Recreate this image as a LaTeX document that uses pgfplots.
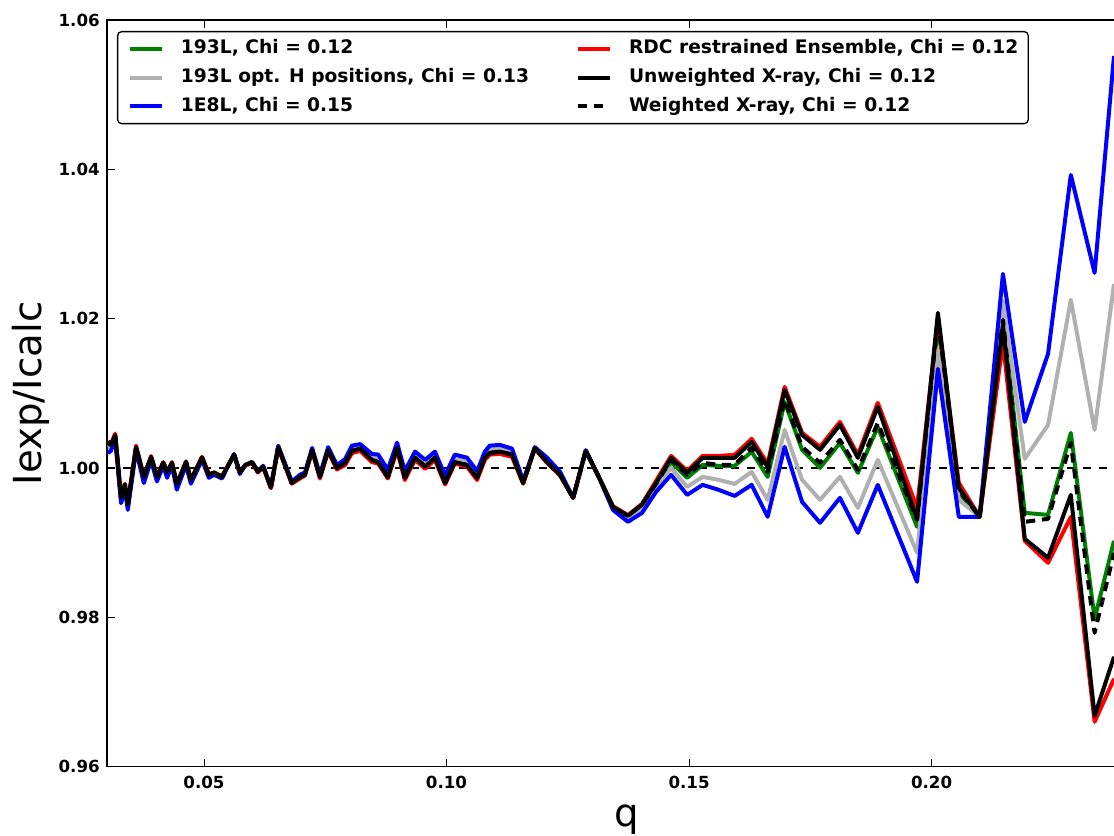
\documentclass[border=0pt]{standalone}
\usepackage{fontspec}
\setmainfont{DejaVu Sans}
\usepackage{pgfplots}
\usepackage{pgfplotstable}
\pgfplotsset{compat=1.18}
\definecolor{mplgreen}{HTML}{008000}
\definecolor{mplgray}{HTML}{B0B0B0}

% q, unweighted (k), 1E8L (b), 193L opt H (gr), 193L (g), RDC (r), weighted (w)
\pgfplotstableread{
q      k       b       gr      g       r       w
0.0302 1.0035  1.0020  1.0027  1.0032  1.0036  1.0035
0.0308 1.0031  1.0023  1.0028  1.0030  1.0032  1.0031
0.0317 1.0044  1.0038  1.0042  1.0043  1.0046  1.0044
0.0329 0.9960  0.9953  0.9959  0.9960  0.9961  0.9960
0.0337 0.9978  0.9971  0.9976  0.9977  0.9979  0.9978
0.0343 0.9951  0.9944  0.9949  0.9950  0.9952  0.9951
0.0360 1.0028  1.0024  1.0027  1.0028  1.0030  1.0028
0.0376 0.9988  0.9980  0.9987  0.9988  0.9989  0.9988
0.0391 1.0015  1.0010  1.0014  1.0015  1.0016  1.0015
0.0403 0.9988  0.9982  0.9987  0.9988  0.9989  0.9988
0.0416 1.0007  1.0003  1.0006  1.0007  1.0008  1.0007
0.0424 0.9994  0.9987  0.9993  0.9994  0.9995  0.9994
0.0434 1.0007  1.0003  1.0006  1.0007  1.0008  1.0007
0.0444 0.9978  0.9971  0.9977  0.9978  0.9979  0.9978
0.0463 1.0008  1.0004  1.0007  1.0008  1.0009  1.0008
0.0473 0.9984  0.9979  0.9983  0.9984  0.9985  0.9984
0.0496 1.0014  1.0011  1.0013  1.0014  1.0015  1.0014
0.0510 0.9991  0.9987  0.9990  0.9991  0.9992  0.9991
0.0521 0.9994  0.9991  0.9993  0.9994  0.9994  0.9994
0.0537 0.9988  0.9986  0.9988  0.9988  0.9989  0.9988
0.0562 1.0018  1.0019  1.0018  1.0018  1.0018  1.0018
0.0574 0.9994  0.9992  0.9993  0.9994  0.9994  0.9994
0.0585 1.0004  1.0004  1.0004  1.0004  1.0003  1.0004
0.0599 1.0008  1.0008  1.0008  1.0008  1.0007  1.0008
0.0611 0.9995  0.9996  0.9995  0.9995  0.9994  0.9995
0.0622 1.0002  1.0003  1.0002  1.0002  1.0001  1.0002
0.0638 0.9974  0.9974  0.9974  0.9974  0.9973  0.9974
0.0653 1.0028  1.0030  1.0029  1.0028  1.0027  1.0028
0.0681 0.9980  0.9982  0.9981  0.9980  0.9979  0.9980
0.0698 0.9988  0.9991  0.9989  0.9988  0.9986  0.9988
0.0708 0.9991  0.9994  0.9992  0.9991  0.9990  0.9991
0.0723 1.0024  1.0027  1.0025  1.0024  1.0023  1.0024
0.0739 0.9988  0.9991  0.9989  0.9988  0.9986  0.9988
0.0756 1.0024  1.0028  1.0026  1.0025  1.0022  1.0024
0.0774 1.0000  1.0004  1.0002  1.0001  0.9998  1.0000
0.0791 1.0007  1.0012  1.0010  1.0008  1.0004  1.0007
0.0805 1.0023  1.0030  1.0026  1.0024  1.0020  1.0023
0.0822 1.0026  1.0032  1.0028  1.0027  1.0023  1.0026
0.0846 1.0011  1.0019  1.0015  1.0012  1.0008  1.0011
0.0859 1.0008  1.0018  1.0012  1.0010  1.0006  1.0008
0.0879 0.9988  0.9998  0.9992  0.9990  0.9986  0.9988
0.0898 1.0027  1.0034  1.0030  1.0028  1.0024  1.0027
0.0914 0.9987  0.9996  0.9991  0.9988  0.9984  0.9987
0.0935 1.0014  1.0022  1.0018  1.0015  1.0011  1.0014
0.0956 1.0002  1.0011  1.0007  1.0004  0.9999  1.0002
0.0976 1.0014  1.0022  1.0018  1.0015  1.0011  1.0014
0.0997 0.9980  0.9990  0.9984  0.9983  0.9978  0.9980
0.1017 1.0008  1.0018  1.0012  1.0010  1.0006  1.0008
0.1042 1.0004  1.0014  1.0010  1.0007  1.0002  1.0004
0.1063 0.9987  0.9996  0.9992  0.9990  0.9984  0.9987
0.1079 1.0014  1.0022  1.0018  1.0015  1.0011  1.0014
0.1089 1.0020  1.0030  1.0026  1.0023  1.0018  1.0020
0.1110 1.0022  1.0031  1.0027  1.0024  1.0019  1.0022
0.1135 1.0018  1.0026  1.0023  1.0020  1.0015  1.0018
0.1158 0.9980  0.9983  0.9982  0.9980  0.9979  0.9980
0.1182 1.0027  1.0028  1.0027  1.0027  1.0026  1.0027
0.1207 1.0008  1.0014  1.0011  1.0010  1.0007  1.0008
0.1234 0.9991  0.9995  0.9992  0.9991  0.9990  0.9991
0.1261 0.9960  0.9960  0.9960  0.9960  0.9960  0.9960
0.1287 1.0023  1.0024  1.0023  1.0023  1.0023  1.0023
0.1314 0.9988  0.9988  0.9988  0.9988  0.9988  0.9988
0.1343 0.9948  0.9944  0.9947  0.9948  0.9949  0.9948
0.1374 0.9936  0.9928  0.9934  0.9935  0.9937  0.9936
0.1403 0.9951  0.9940  0.9947  0.9949  0.9952  0.9951
0.1432 0.99802 0.99681 0.99748 0.99775 0.99829 0.99788
0.1463 1.00137 0.99909 1.00003 1.00083 1.00163 1.00110
0.1496 0.99936 0.99641 0.99748 0.99869 0.99962 0.99909
0.1528 1.00137 0.99775 0.99882 1.00043 1.00163 1.00070
0.1561 1.00137 0.99708 0.99842 1.00030 1.00163 1.00043
0.1594 1.00137 0.99627 0.99788 1.00030 1.00177 1.00043
0.1629 1.00351 0.99775 0.99949 1.00217 1.00391 1.00270
0.1662 1.00016 0.99347 0.99574 0.99882 1.00056 0.99949
0.1697 1.01047 1.00284 1.00511 1.00886 1.01087 1.00913
0.1733 1.00444 0.99547 0.99842 1.00244 1.00471 1.00284
0.1770 1.00244 0.99267 0.99574 1.00003 1.00284 1.00070
0.1811 1.00578 0.99601 0.99882 1.00337 1.00618 1.00377
0.1848 1.00137 0.99133 0.99467 0.99936 1.00177 0.99976
0.1889 1.00819 0.99775 1.00110 1.00551 1.00873 1.00605
0.1970 0.99320 0.98477 0.98865 0.99213 0.99467 0.99307
0.2013 1.02078 1.01328 1.01582 1.01917 1.02011 1.02011
0.2056 0.99735 0.99347 0.99574 0.99668 0.99802 0.99708
0.2099 0.99347 0.99347 0.99347 0.99347 0.99347 0.99347
0.2147 1.01917 1.02600 1.02238 1.02037 1.01689 1.01984
0.2192 0.99052 1.00618 1.00123 0.99400 0.99025 0.99280
0.2240 0.98798 1.01529 1.00578 0.99373 0.98731 0.99320
0.2287 0.99641 1.03925 1.02252 1.00471 0.99347 1.00337
0.2336 0.96683 1.02613 1.00511 0.97981 0.96602 0.97794
0.2376 0.97473 1.05518 1.02466 0.99025 0.97178 0.98865
}\data

\begin{document}
\begin{tikzpicture}
\begin{axis}[
    scale only axis,
    width=764.25pt,
    height=560.25pt,
    xmin=0.03, xmax=0.24,
    ymin=0.96, ymax=1.06,
    xtick={0.05,0.10,0.15,0.20},
    ytick={0.96,0.98,1.00,1.02,1.04,1.06},
    /pgf/number format/.cd, fixed, fixed zerofill, precision=2, assume math mode=true,
    /pgfplots/.cd,
    tick label style={font=\bfseries\fontsize{12.5}{12.5}\selectfont, inner sep=0pt},
    yticklabel style={xshift=-5.25pt},
    xticklabel style={yshift=-6.75pt},
    major tick length=6pt,
    every tick/.style={black, line width=0.6pt},
    axis line style={line width=0.9pt},
    xlabel={q},
    ylabel={Iexp/Icalc},
    every axis x label/.style={at={([yshift=-44.6pt]rel axis cs:0.51,0)}, anchor=base,
        font=\fontsize{29}{29}\selectfont, inner sep=0pt},
    every axis y label/.style={at={([xshift=-71.25pt]rel axis cs:0,0.5)}, rotate=90, anchor=north,
        font=\fontsize{29}{29}\selectfont, inner sep=0pt},
    legend transposed=true,
    legend columns=3,
    legend cell align=left,
    legend image code/.code={\draw[#1] (0pt,0pt) -- (24pt,0pt);},
    legend style={
        at={(rel axis cs:0,1)}, anchor=north west, xshift=7.5pt, yshift=-8.25pt,
        draw=black, line width=1pt, rounded corners=3pt,
        inner xsep=7.5pt, inner ysep=6pt, row sep=7.8pt,
        font=\bfseries\fontsize{14}{14}\selectfont,
        nodes={inner sep=0pt, text height=10.5pt, text depth=3.3pt},
        /tikz/every odd column/.append style={column sep=13pt},
        /tikz/every even column/.append style={column sep=35pt},
    },
    every axis plot/.append style={line width=3pt, line join=round},
]
\addplot[black, line width=1pt, dash pattern=on 6pt off 6pt, forget plot] coordinates {(0.03,1.00) (0.24,1.00)};
\addplot[mplgreen] table[x=q, y=g] {\data};
\addlegendentry{193L, Chi = 0.12}
\addplot[mplgray] table[x=q, y=gr] {\data};
\addlegendentry{193L opt. H positions, Chi = 0.13}
\addplot[blue] table[x=q, y=b] {\data};
\addlegendentry{1E8L, Chi = 0.15}
\addplot[red] table[x=q, y=r] {\data};
\addlegendentry{RDC restrained Ensemble, Chi = 0.12}
\addplot[black] table[x=q, y=k] {\data};
\addlegendentry{Unweighted X-ray, Chi = 0.12}
\addplot[black, dash pattern=on 7pt off 5pt] table[x=q, y=w] {\data};
\addlegendentry{Weighted X-ray, Chi = 0.12}
\coordinate (SW) at (rel axis cs:0,0);
\coordinate (NE) at (axis cs:0.2376,1.06);
\end{axis}
\pgfresetboundingbox
\path[use as bounding box] ([shift={(-80.25pt,-51.75pt)}]SW) rectangle ([yshift=15pt]NE);
\end{tikzpicture}
\end{document}
